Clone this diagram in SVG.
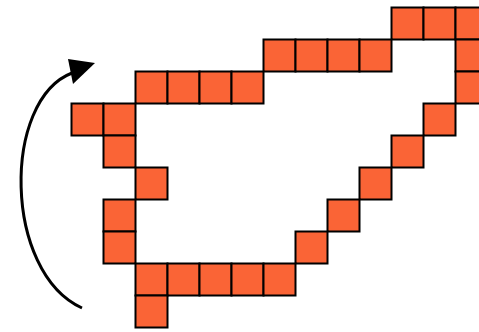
<svg xmlns="http://www.w3.org/2000/svg" width="479" height="332" viewBox="0 0 479 332">
<defs>
<style>
.c{fill:#FA6436;stroke:#000;stroke-width:2}
.a{fill:none;stroke:#000;stroke-width:3}
.h{fill:#000}
</style>
</defs>
<g id="cells">
<g id="r0"><rect class="c" x="391.5" y="7.5" width="32" height="32"/><rect class="c" x="423.5" y="7.5" width="32" height="32"/><rect class="c" x="455.5" y="7.5" width="32" height="32"/></g>
<g id="r1"><rect class="c" x="263.5" y="39.5" width="32" height="32"/><rect class="c" x="295.5" y="39.5" width="32" height="32"/><rect class="c" x="327.5" y="39.5" width="32" height="32"/><rect class="c" x="359.5" y="39.5" width="32" height="32"/><rect class="c" x="455.5" y="39.5" width="32" height="32"/></g>
<g id="r2"><rect class="c" x="135.5" y="71.5" width="32" height="32"/><rect class="c" x="167.5" y="71.5" width="32" height="32"/><rect class="c" x="199.5" y="71.5" width="32" height="32"/><rect class="c" x="231.5" y="71.5" width="32" height="32"/><rect class="c" x="455.5" y="71.5" width="32" height="32"/></g>
<g id="r3"><rect class="c" x="71.5" y="103.5" width="32" height="32"/><rect class="c" x="103.5" y="103.5" width="32" height="32"/><rect class="c" x="423.5" y="103.5" width="32" height="32"/></g>
<g id="r4"><rect class="c" x="103.5" y="135.5" width="32" height="32"/><rect class="c" x="391.5" y="135.5" width="32" height="32"/></g>
<g id="r5"><rect class="c" x="135.5" y="167.5" width="32" height="32"/><rect class="c" x="359.5" y="167.5" width="32" height="32"/></g>
<g id="r6"><rect class="c" x="103.5" y="199.5" width="32" height="32"/><rect class="c" x="327.5" y="199.5" width="32" height="32"/></g>
<g id="r7"><rect class="c" x="103.5" y="231.5" width="32" height="32"/><rect class="c" x="295.5" y="231.5" width="32" height="32"/></g>
<g id="r8"><rect class="c" x="135.5" y="263.5" width="32" height="32"/><rect class="c" x="167.5" y="263.5" width="32" height="32"/><rect class="c" x="199.5" y="263.5" width="32" height="32"/><rect class="c" x="231.5" y="263.5" width="32" height="32"/><rect class="c" x="263.5" y="263.5" width="32" height="32"/></g>
<g id="r9"><rect class="c" x="135.5" y="295.5" width="32" height="32"/></g>
</g>
<g id="connectors">
<path class="a" d="M82,308 C3,272 2,100 72,73"/>
<polygon class="h" points="95,63 68,59 73,84"/>
</g>
</svg>
